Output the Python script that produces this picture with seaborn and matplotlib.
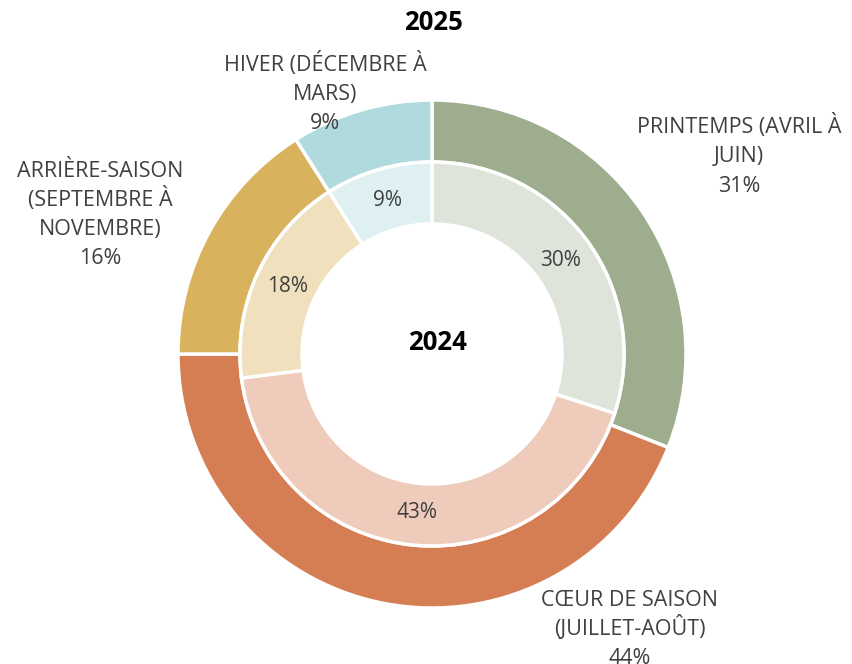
import matplotlib
matplotlib.use("Agg")
import matplotlib.pyplot as plt
import seaborn as sns

# ---- data ----
categories = ["PRINTEMPS (AVRIL À\nJUIN)", "CŒUR DE SAISON\n(JUILLET-AOÛT)",
              "ARRIÈRE-SAISON\n(SEPTEMBRE À\nNOVEMBRE)", "HIVER (DÉCEMBRE À\nMARS)"]
values_2025 = [31, 44, 16, 9]
values_2024 = [30, 43, 18, 9]
outer_colors = ["#9EAD8D", "#D57D53", "#D9B25E", "#B0DBDE"]
inner_colors = ["#DEE4D9", "#EFCBBC", "#F0E0BE", "#DFF0F2"]
title_outer = "2025"
title_inner = "2024"

sns.set_theme(style="white")
plt.rcParams["font.family"] = ["Open Sans", "DejaVu Sans"]

W, H, DPI = 853, 664, 100
fig = plt.figure(figsize=(W / DPI, H / DPI), dpi=DPI)
ax = fig.add_axes([0, 0, 1, 1])

R = 254.0
cx, cy = 432.0, 354.0
txt_color = "#404040"

wedges_o, _ = ax.pie(values_2025, radius=1.0, colors=outer_colors, startangle=90,
                     counterclock=False,
                     wedgeprops=dict(width=62 / R, edgecolor="white", linewidth=2.5))
wedges_i, _, autotexts = ax.pie(values_2024, radius=192 / R, colors=inner_colors,
                                startangle=90, counterclock=False,
                                autopct=lambda p: f"{p:.0f}%", pctdistance=0.83,
                                wedgeprops=dict(width=62 / R, edgecolor="white", linewidth=2.5),
                                textprops=dict(color=txt_color, fontsize=15))

# outer labels (category + percent): centre x and first baseline (pixels), 29px line step
label_anchor = [(739, 133.5), (629.5, 606.5), (100, 177.3), (325, 71.3)]
line_step = 29.0
for cat, v, (px, py) in zip(categories, values_2025, label_anchor):
    lines = cat.split("\n") + [f"{v}%"]
    for k, line in enumerate(lines):
        ax.text((px - cx) / R, (cy - (py + k * line_step)) / R, line,
                ha="center", va="baseline", color=txt_color, fontsize=15.5)

ax.text((433 - cx) / R, (cy - 23) / R, title_outer, ha="center", va="center",
        fontsize=18.5, fontweight="bold", color="black")
ax.text((437 - cx) / R, (cy - 343) / R, title_inner, ha="center", va="center",
        fontsize=18.5, fontweight="bold", color="black")

ax.set_xlim(-cx / R, (W - cx) / R)
ax.set_ylim(-(H - cy) / R, cy / R)
ax.set_aspect("equal")
ax.axis("off")

fig.savefig("out.png", dpi=DPI, facecolor="white")
